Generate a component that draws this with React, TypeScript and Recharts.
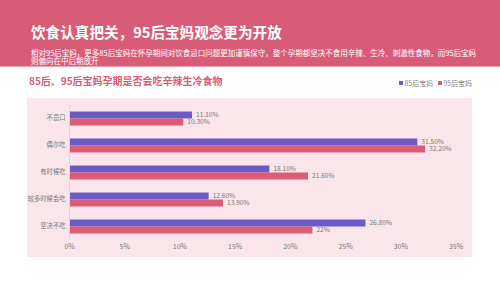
import React from "react";
import {
  BarChart,
  Bar,
  XAxis,
  YAxis,
  LabelList,
} from "recharts";

const categories = ["不忌口", "偶尔吃", "有时候吃", "较多时候会吃", "坚决不吃"];
const mom85 = [11.1, 31.5, 18.1, 12.6, 26.8];
const mom95 = [10.3, 32.2, 21.6, 13.9, 22];
const xTicks = [0, 5, 10, 15, 20, 25, 30, 35];

const seriesNames = ["85后宝妈", "95后宝妈"];

const colors = {
  header: "#D95C77",
  blue: "#6A5BC8",
  red: "#DA5C77",
  panel: "#FAE5EA",
  text: "#777777",
};

const data = categories.map((name, i) => ({
  name,
  a: mom85[i],
  b: mom95[i],
}));

const fmt = (v: any) => {
  const n = Number(v);
  return Number.isInteger(n) ? `${n}%` : `${n.toFixed(2)}%`;
};

const font = '"Noto Sans CJK SC", "Noto Sans", sans-serif';

const LegendBox = () => (
  <div style={{ display: "flex", gap: 5, fontSize: 7, color: "#888", fontFamily: font, justifyContent: "flex-end" }}>
    {seriesNames.map((n, i) => (
      <div key={n} style={{ display: "flex", alignItems: "center" }}>
        <span
          style={{
            width: 4,
            height: 4,
            background: i === 0 ? colors.blue : colors.red,
            display: "inline-block",
            marginRight: 1,
          }}
        />
        {n}
      </div>
    ))}
  </div>
);

export default function App() {
  return (
    <div
      style={{
        position: "absolute",
        left: 0,
        top: 0,
        width: 500,
        height: 281,
        background: "#fff",
        fontFamily: font,
        overflow: "hidden",
      }}
    >
      <div style={{ position: "absolute", left: 0, top: 0, width: 500, height: 66, background: colors.header }} />
      <div style={{ position: "absolute", left: 0, top: 66, width: 500, height: 1, background: "#EFA3B4" }} />
      <div
        style={{
          position: "absolute",
          left: 31,
          top: 22,
          color: "#fff",
          fontSize: 14.6,
          fontWeight: 700,
          whiteSpace: "nowrap",
          lineHeight: "20px",
        }}
      >
        饮食认真把关，95后宝妈观念更为开放
      </div>
      <div
        style={{
          position: "absolute",
          left: 31,
          top: 48.5,
          color: "#fff",
          fontSize: 7.5,
          lineHeight: "8.5px",
          whiteSpace: "nowrap",
        }}
      >
        相对95后宝妈，更多85后宝妈在怀孕期间对饮食忌口问题更加谨慎保守，整个孕期都坚决不食用辛辣、生冷、刺激性食物，而95后宝妈
        <br />
        则偏向在中后期放开
      </div>
      <div
        style={{
          position: "absolute",
          left: 29,
          top: 74,
          color: colors.header,
          fontSize: 10,
          fontWeight: 700,
          lineHeight: "14px",
          whiteSpace: "nowrap",
        }}
      >
        85后、95后宝妈孕期是否会吃辛辣生冷食物
      </div>
      <div style={{ position: "absolute", left: 380, top: 78, width: 92 }}>
        <LegendBox />
      </div>
      <div style={{ position: "absolute", left: 27, top: 98, width: 445, height: 159, background: colors.panel }} />
      <div style={{ position: "absolute", left: 27, top: 98 }}>
        <BarChart
          width={445}
          height={159}
          data={data}
          layout="vertical"
          barSize={7}
          barGap={0}
          margin={{ top: 6.5, right: 16, left: 0, bottom: 2.5 }}
        >
          <XAxis
            type="number"
            domain={[0, 35]}
            ticks={xTicks}
            tickFormatter={(v) => `${v}%`}
            axisLine={false}
            tickLine={false}
            tickSize={3}
            height={15}
            tick={{ fontSize: 7, fill: colors.text, fontFamily: font }}
          />
          <YAxis
            type="category"
            dataKey="name"
            width={42.5}
            axisLine={{ stroke: "#E2D3D7" }}
            tickLine={false}
            tickSize={0}
            tickMargin={4}
            tick={{ fontSize: 6.3, fill: colors.text, fontFamily: font }}
          />
          <Bar dataKey="a" name={seriesNames[0]} fill={colors.blue} isAnimationActive={false}>
            <LabelList dataKey="a" position="right" offset={4} formatter={fmt} style={{ fontSize: 6.6, fill: colors.text, fontFamily: font }} />
          </Bar>
          <Bar dataKey="b" name={seriesNames[1]} fill={colors.red} isAnimationActive={false}>
            <LabelList dataKey="b" position="right" offset={4} formatter={fmt} style={{ fontSize: 6.6, fill: colors.text, fontFamily: font }} />
          </Bar>
        </BarChart>
      </div>
    </div>
  );
}
